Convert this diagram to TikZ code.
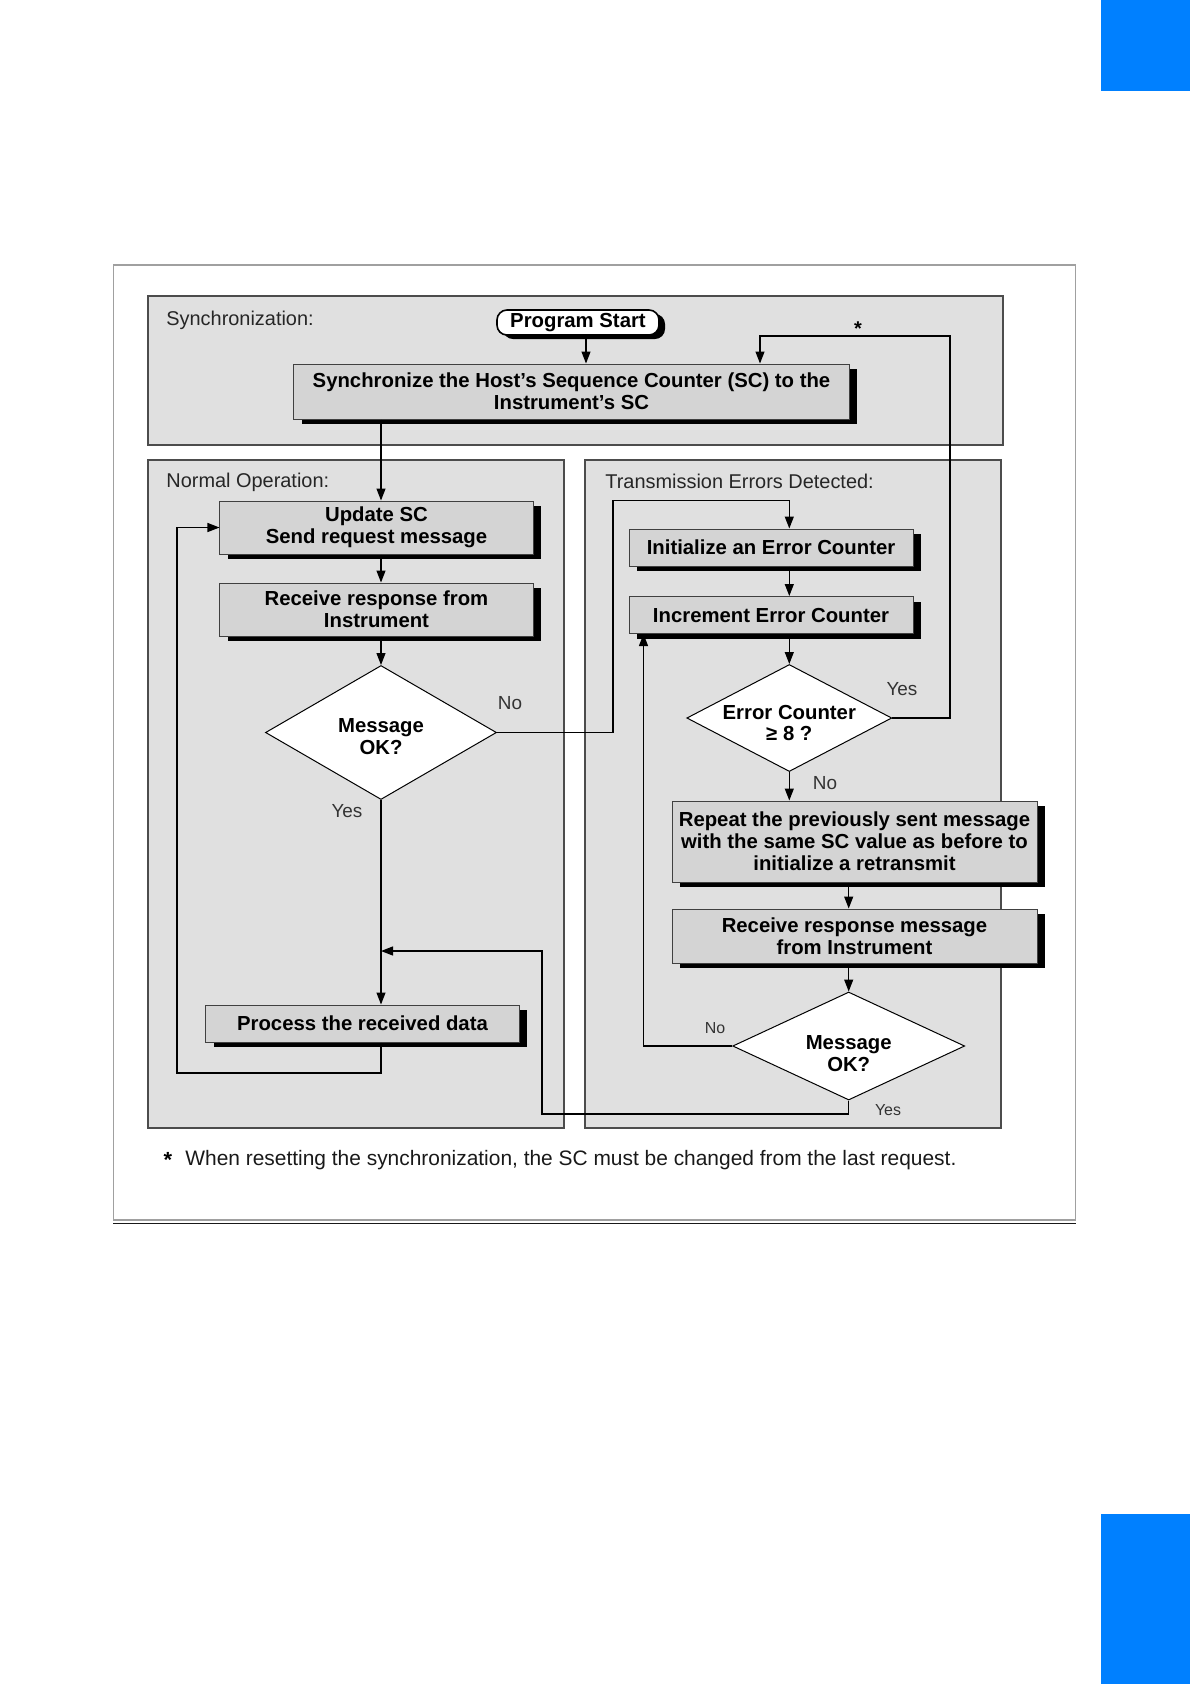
\documentclass[tikz,border=0pt]{standalone}
\usepackage{fontspec}
\setmainfont{Liberation Sans}
\usetikzlibrary{arrows.meta,shadows,shapes.geometric}
\definecolor{tabblue}{RGB}{0,128,255}
\definecolor{panelgray}{RGB}{224,224,224}
\definecolor{boxgray}{RGB}{212,212,212}
\definecolor{framegray}{RGB}{160,160,160}
\begin{document}
\begin{tikzpicture}[x=0.5bp,y=-0.5bp,
  panel/.style={draw=black!70, line width=0.6bp, fill=panelgray},
  procbox/.style={rectangle, draw=black!75, line width=0.5bp, fill=boxgray,
    font=\bfseries\fontsize{10.2}{11}\selectfont, align=center, inner sep=0pt,
    drop shadow={shadow xshift=4bp, shadow yshift=-2.5bp, fill=black, opacity=1}},
  startbox/.style={rectangle, rounded corners=5bp, draw=black, line width=0.8bp, fill=white,
    font=\bfseries\fontsize{10.2}{11}\selectfont, inner sep=0pt,
    minimum width=81bp, minimum height=12.5bp,
    drop shadow={shadow xshift=3bp, shadow yshift=-2bp, fill=black, opacity=1}},
  decbox/.style={diamond, draw=black, line width=0.5bp, fill=white, inner sep=0pt},
  dectext/.style={font=\bfseries\fontsize{10.2}{11}\selectfont, align=center, inner sep=0pt},
  lbl/.style={font=\fontsize{10}{12}\selectfont, text=black!85, inner sep=0pt, anchor=west},
  yn/.style={font=\fontsize{9.5}{11}\selectfont, text=black!80, inner sep=0pt},
  ynsmall/.style={font=\fontsize{8}{9}\selectfont, text=black!80, inner sep=0pt},
  ln/.style={line width=0.6bp},
  arr/.style={line width=0.6bp, -{Triangle[length=6bp,width=4.5bp]}}
]
\useasboundingbox (0,0) rectangle (1190,1684);
% page tabs
\fill[tabblue] (1101,0) rectangle (1190,91);
\fill[tabblue] (1101,1514) rectangle (1190,1684);
% outer frame
\draw[draw=framegray, line width=0.75bp] (113.5,265) rectangle (1075.5,1220);
\draw[black!90, line width=0.8bp] (113,1223.5) -- (1076,1223.5);
% panels
\draw[panel] (148,296) rectangle (1003,445);
\draw[panel] (148,460) rectangle (564,1128);
\draw[panel] (585,460) rectangle (1001,1128);
\node[lbl] (lsync) at (166,320) {Synchronization:};
\node[lbl] (lnorm) at (166,482) {Normal Operation:};
\node[lbl] (ltrans) at (605,481) {Transmission Errors Detected:};

% nodes
\node[startbox] (ps) at (578,322.5) {Program Start};
\node[procbox, minimum width=277.5bp, minimum height=27.5bp] (sync) at (571.5,391.5)
  {Synchronize the Host’s Sequence Counter (SC) to the\\Instrument’s SC};
\node[procbox, minimum width=156.5bp, minimum height=26.5bp] (update) at (376.5,527.5)
  {Update SC\\Send request message};
\node[procbox, minimum width=156.5bp, minimum height=26.5bp] (recv1) at (376.5,609.5)
  {Receive response from\\Instrument};
\node[decbox, minimum width=115.5bp, minimum height=67bp,
  label={[dectext, yshift=-2bp]center:Message\\OK?}] (d1) at (381,732.5) {};
\node[procbox, minimum width=156.5bp, minimum height=18.5bp] (pdata) at (362.5,1023.5)
  {Process the received data};
\node[procbox, minimum width=142bp, minimum height=18.5bp] (init) at (771,547.5)
  {Initialize an Error Counter};
\node[procbox, minimum width=142bp, minimum height=18.5bp] (incr) at (771,615)
  {Increment Error Counter};
\node[decbox, minimum width=102.5bp, minimum height=53.5bp,
  label={[dectext, yshift=-2.5bp]center:Error Counter\\≥ 8 ?}] (d2) at (789.3,718) {};
\node[procbox, minimum width=182.5bp, minimum height=40.5bp] (rep) at (854.5,841.5)
  {Repeat the previously sent message\\with the same SC value as before to\\initialize a retransmit};
\node[procbox, minimum width=182.5bp, minimum height=27bp] (recv2) at (854.5,936)
  {Receive response message\\from Instrument};
\node[decbox, minimum width=116bp, minimum height=54bp,
  label={[dectext, yshift=-4bp]center:Message\\OK?}] (d3) at (848.7,1046) {};

% helper coordinates
\coordinate (starR) at (950,336);
\coordinate (starL) at (760,336);
\coordinate (noTop) at (613,500.7);
\coordinate (loopL) at (177,1073);
\coordinate (yesB) at (542,1114);
\coordinate (yesT) at (542,951);

% connectors
\draw[arr] ([xshift=4bp]ps.south) -- ([xshift=4bp]ps.south |- sync.north);
\draw[arr] (d2.east) -| (starR) -- (starL) -- (starL |- sync.north);
\draw[arr] (sync.south -| d1) -- (update.north -| d1);
\draw[arr] (update.south -| d1) -- (recv1.north -| d1);
\draw[arr] (recv1.south -| d1) -- (d1.north);
\draw[arr] (d1.south) -- (pdata.north -| d1);
\draw[arr] (pdata.south -| d1) |- (loopL) |- (update.west);
\draw[arr] (d1.east) -| (noTop) -| (init.north -| d2);
\draw[arr] (init.south -| d2) -- (incr.north -| d2);
\draw[arr] (incr.south -| d2) -- (d2.north);
\draw[arr] (d2.south) -- (d2.south |- rep.north);
\draw[arr] (rep.south -| d3) -- (recv2.north -| d3);
\draw[arr] (recv2.south -| d3) -- (d3.north);
\draw[arr] (d3.west) -| ([xshift=7.5bp]incr.south west);
\draw[arr] (d3.south) |- (yesB) -- (yesT) -- (yesT -| d1);

% labels
\node[yn] (lno1) at (510,703) {No};
\node[yn] (lyes1) at (347,811) {Yes};
\node[yn] (lyes2) at (902,689) {Yes};
\node[yn] (lno2) at (825,783) {No};
\node[ynsmall] (lno3) at (715,1028) {No};
\node[ynsmall] (lyes3) at (888,1110) {Yes};
\node[font=\bfseries\fontsize{10}{11}\selectfont, inner sep=0pt] (lstar) at (858,329) {*};
\node[font=\bfseries\fontsize{11}{12}\selectfont, inner sep=0pt] (fstar) at (168,1160) {*};
\node[font=\fontsize{10.5}{12}\selectfont, text=black!90, inner sep=0pt, anchor=west] (foot) at (185,1160)
  {When resetting the synchronization, the SC must be changed from the last request.};
\end{tikzpicture}
\end{document}
